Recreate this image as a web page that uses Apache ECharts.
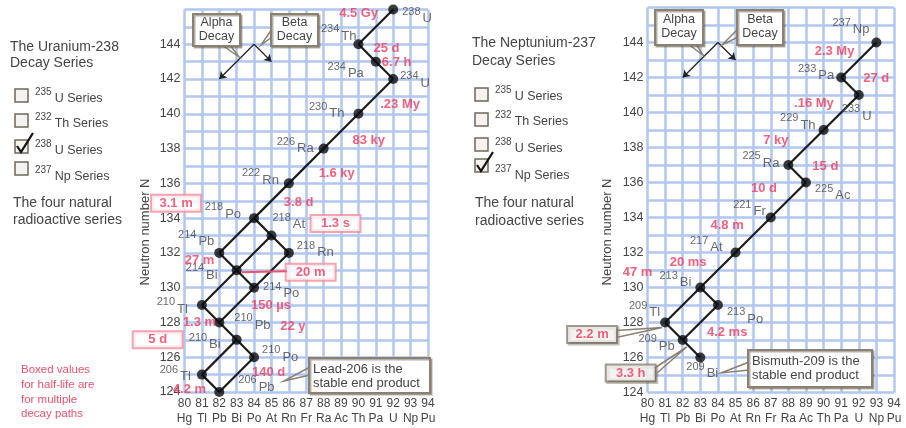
<!DOCTYPE html>
<html>
<head>
<meta charset="utf-8">
<script src="https://cdn.jsdelivr.net/npm/echarts@6/dist/echarts.min.js"></script>
<style>
  html, body { margin: 0; padding: 0; background: #fff; }
  #chart { width: 906px; height: 428px; }
</style>
</head>
<body>
<div id="chart"></div>
<script>
// ---------------- axis data ----------------
const zTicks = [80, 81, 82, 83, 84, 85, 86, 87, 88, 89, 90, 91, 92, 93, 94];
const elementSymbols = ['Hg', 'Tl', 'Pb', 'Bi', 'Po', 'At', 'Rn', 'Fr', 'Ra', 'Ac', 'Th', 'Pa', 'U', 'Np', 'Pu'];
const nTicks = [124, 126, 128, 130, 132, 134, 136, 138, 140, 142, 144];

// ---------------- Uranium-238 series ----------------
const uNames    = ['U-238', 'Th-234', 'Pa-234', 'U-234', 'Th-230', 'Ra-226', 'Rn-222', 'Po-218', 'At-218', 'Pb-214',
                   'Rn-218', 'Bi-214', 'Po-214', 'Tl-210', 'Pb-210', 'Bi-210', 'Po-210', 'Tl-206', 'Pb-206'];
const uMass     = [238, 234, 234, 234, 230, 226, 222, 218, 218, 214, 218, 214, 214, 210, 210, 210, 210, 206, 206];
const uSymbol   = ['U', 'Th', 'Pa', 'U', 'Th', 'Ra', 'Rn', 'Po', 'At', 'Pb', 'Rn', 'Bi', 'Po', 'Tl', 'Pb', 'Bi', 'Po', 'Tl', 'Pb'];
const uZ        = [92, 90, 91, 92, 90, 88, 86, 84, 85, 82, 86, 83, 84, 81, 82, 83, 84, 81, 82];
const uN        = [146, 144, 143, 142, 140, 138, 136, 134, 133, 132, 132, 131, 130, 129, 128, 127, 126, 125, 124];
const uHalfLife = ['4.5 Gy', '25 d', '6.7 h', '.23 My', '83 ky', '1.6 ky', '3.8 d', '3.1 m', '1.3 s', '27 m',
                   '', '20 m', '150 µs', '1.3 m', '22 y', '5 d', '140 d', '4.2 m', ''];
const uDecays = [
  ['U-238', 'Th-234'], ['Th-234', 'Pa-234'], ['Pa-234', 'U-234'], ['U-234', 'Th-230'], ['Th-230', 'Ra-226'],
  ['Ra-226', 'Rn-222'], ['Rn-222', 'Po-218'], ['Po-218', 'Pb-214'], ['Po-218', 'At-218'], ['At-218', 'Bi-214'],
  ['At-218', 'Rn-218'], ['Pb-214', 'Bi-214'], ['Rn-218', 'Po-214'], ['Bi-214', 'Po-214'], ['Bi-214', 'Tl-210'],
  ['Po-214', 'Pb-210'], ['Tl-210', 'Pb-210'], ['Pb-210', 'Bi-210'], ['Bi-210', 'Po-210'], ['Bi-210', 'Tl-206'],
  ['Po-210', 'Pb-206'], ['Tl-206', 'Pb-206']
];

// ---------------- Neptunium-237 series ----------------
const npNames    = ['Np-237', 'Pa-233', 'U-233', 'Th-229', 'Ra-225', 'Ac-225', 'Fr-221', 'At-217', 'Bi-213',
                    'Po-213', 'Tl-209', 'Pb-209', 'Bi-209'];
const npMass     = [237, 233, 233, 229, 225, 225, 221, 217, 213, 213, 209, 209, 209];
const npSymbol   = ['Np', 'Pa', 'U', 'Th', 'Ra', 'Ac', 'Fr', 'At', 'Bi', 'Po', 'Tl', 'Pb', 'Bi'];
const npZ        = [93, 91, 92, 90, 88, 89, 87, 85, 83, 84, 81, 82, 83];
const npN        = [144, 142, 141, 139, 137, 136, 134, 132, 130, 129, 128, 127, 126];
const npHalfLife = ['2.3 My', '27 d', '.16 My', '7 ky', '15 d', '10 d', '4.8 m', '20 ms', '47 m',
                    '4.2 ms', '2.2 m', '3.3 h', ''];
const npDecays = [
  ['Np-237', 'Pa-233'], ['Pa-233', 'U-233'], ['U-233', 'Th-229'], ['Th-229', 'Ra-225'], ['Ra-225', 'Ac-225'],
  ['Ac-225', 'Fr-221'], ['Fr-221', 'At-217'], ['At-217', 'Bi-213'], ['Bi-213', 'Po-213'], ['Bi-213', 'Tl-209'],
  ['Po-213', 'Pb-209'], ['Tl-209', 'Pb-209'], ['Pb-209', 'Bi-209']
];

// decay-mode key: alpha removes 2 protons + 2 neutrons, beta turns a neutron into a proton
const keyOrigin = [84, 144];
const alphaStep = [-2, -2];
const betaStep  = [1, -1];

// check-box list of the four natural series
const seriesMass = ['235', '232', '238', '237'];
const seriesElem = ['U', 'Th', 'U', 'Np'];

// ---------------- layout (label placement around each dot) ----------------
// [side, dx, dy]
const uNameLayout = {
  'U-238': ['l', 9, 6], 'Th-234': ['r', -2, -11], 'Pa-234': ['r', -12, 9], 'U-234': ['l', 7, 1],
  'Th-230': ['r', -14, -3], 'Ra-226': ['r', -10, -3], 'Rn-222': ['r', -10, -6], 'Po-218': ['r', -13, -7],
  'At-218': ['l', 1, -14], 'Pb-214': ['r', -5, -14], 'Rn-218': ['l', 8, -3], 'Bi-214': ['r', -19, 2],
  'Po-214': ['l', 9, 3], 'Tl-210': ['r', -14, 1], 'Pb-210': ['l', 15, 0], 'Bi-210': ['r', -16, 2],
  'Po-210': ['l', 8, -3], 'Tl-206': ['r', -11, -1], 'Pb-206': ['l', 19, -8]
};
// [side, dx, dy, style]
const uHalfLayout = {
  'U-238': ['r', -15, 4, 'plain'], 'Th-234': ['l', 15, 4, 'plain'], 'Pa-234': ['l', 6, 1, 'plain'],
  'U-234': ['l', -13, 25, 'plain'], 'Th-230': ['l', -6, 27, 'plain'], 'Ra-226': ['l', -5, 25, 'plain'],
  'Rn-222': ['l', -5, 19, 'plain'], 'Po-218': ['r', -54, -15, 'pink'], 'At-218': ['l', 40, -12, 'pink'],
  'Pb-214': ['r', -5, 8, 'plain'], 'Bi-214': ['l', 50, 2, 'pink'], 'Po-214': ['l', -3, 18, 'plain'],
  'Tl-210': ['l', -19, 17, 'plain'], 'Pb-210': ['l', 61, 4, 'plain'], 'Bi-210': ['r', -55, 0, 'pink'],
  'Po-210': ['l', -2, 15, 'plain'], 'Tl-206': ['l', -29, 15, 'plain']
};
const npNameLayout = {
  'Np-237': ['r', -7, -16], 'Pa-233': ['r', -7, -5], 'U-233': ['l', -17, 18], 'Th-229': ['r', -8, -8],
  'Ra-225': ['r', -9, -5], 'Ac-225': ['l', 9, 10], 'Fr-221': ['r', -5, -9], 'At-217': ['r', -13, -8],
  'Bi-213': ['r', -9, -8], 'Po-213': ['l', 9, 11], 'Tl-209': ['r', -5, -13], 'Pb-209': ['r', -8, 3],
  'Bi-209': ['l', -14, 13]
};
const npHalfLayout = {
  'Np-237': ['r', -22, 9, 'plain'], 'Pa-233': ['l', 22, 1, 'plain'], 'U-233': ['r', -25, 8, 'plain'],
  'Th-229': ['r', -35, 10, 'plain'], 'Ra-225': ['l', 24, 1, 'plain'], 'Ac-225': ['r', -29, 6, 'plain'],
  'Fr-221': ['r', -27, 8, 'plain'], 'At-217': ['r', -29, 10, 'plain'], 'Bi-213': ['r', -48, -15, 'plain'],
  'Tl-209': ['r', -49, 12, 'gray'], 'Po-213': ['l', -11, 27, 'plain'], 'Pb-209': ['r', -28, 33, 'gray']
};

// ---------------- styling ----------------
const FONT = "'Liberation Sans', Arial, Helvetica, sans-serif";
const INK = '#454545';
const RED = '#f4375b';
const GRID_BLUE = '#b1c6f1';
const BOX_LINE = '#8a8172';
const PINK_LINE = '#f58c9c';

const chart = echarts.init(document.getElementById('chart'), null, { renderer: 'canvas' });

function axisPair(g) {
  return {
    x: {
      type: 'value', gridIndex: g, min: 80, max: 94, interval: 1,
      axisLine: { show: false }, axisTick: { show: false },
      splitLine: { show: true, lineStyle: { color: GRID_BLUE, width: 2.5 } },
      axisLabel: {
        margin: 4,
        formatter: v => '{n|' + v + '}\n{s|' + elementSymbols[zTicks.indexOf(v)] + '}',
        rich: {
          n: { fontSize: 12, color: INK, lineHeight: 15, fontFamily: FONT },
          s: { fontSize: 12, color: INK, lineHeight: 15, fontFamily: FONT }
        }
      }
    },
    y: {
      type: 'value', gridIndex: g, min: 124, max: 146, interval: 1,
      axisLine: { show: false }, axisTick: { show: false },
      splitLine: { show: true, lineStyle: { color: GRID_BLUE, width: 2.5 } },
      axisLabel: {
        margin: 4, fontSize: 12.5, color: INK, fontFamily: FONT,
        formatter: v => (nTicks.indexOf(v) >= 0 ? String(v) : '')
      }
    }
  };
}

const halfRich = {
  plain: { fontSize: 13, fontWeight: 'bold', color: RED, lineHeight: 15, fontFamily: FONT },
  pink: { fontSize: 13, fontWeight: 'bold', color: RED, lineHeight: 14, fontFamily: FONT, width: 36, align: 'center',
          backgroundColor: '#fff', borderColor: PINK_LINE, borderWidth: 2, padding: [1, 6] },
  gray: { fontSize: 13, fontWeight: 'bold', color: RED, lineHeight: 14, fontFamily: FONT, width: 36, align: 'center',
          backgroundColor: '#fff', borderColor: BOX_LINE, borderWidth: 2, padding: [1, 6],
          shadowColor: 'rgba(90,80,60,0.45)', shadowOffsetX: 1.5, shadowOffsetY: 1.5 }
};

function panelSeries(g, names, Z, N, mass, sym, half, decays, nameLayout, halfLayout) {
  const idx = {};
  names.forEach((n, i) => { idx[n] = i; });
  const pt = n => [Z[idx[n]], N[idx[n]]];
  const halfItems = names
    .map((n, i) => ({ n, i }))
    .filter(o => half[o.i] && halfLayout[o.n]);
  const keyEnd = step => [keyOrigin[0] + step[0], keyOrigin[1] + step[1]];
  return [
    {
      type: 'lines', coordinateSystem: 'cartesian2d', xAxisIndex: g, yAxisIndex: g, z: 3, silent: true,
      lineStyle: { color: '#1c1c1c', width: 2.2, opacity: 1 },
      data: decays.map(([a, b]) => ({ coords: [pt(a), pt(b)] }))
    },
    {
      type: 'lines', coordinateSystem: 'cartesian2d', xAxisIndex: g, yAxisIndex: g, z: 3, silent: true,
      symbol: ['none', 'arrow'], symbolSize: 7,
      lineStyle: { color: '#222', width: 1.3, opacity: 1 },
      data: [{ coords: [keyOrigin, keyEnd(alphaStep)] }, { coords: [keyOrigin, keyEnd(betaStep)] }]
    },
    {
      type: 'scatter', xAxisIndex: g, yAxisIndex: g, z: 5, silent: true,
      symbol: 'circle', symbolSize: 10, itemStyle: { color: '#0b0b0b' },
      data: names.map((n, i) => {
        const L = nameLayout[n];
        return { name: n, value: [Z[i], N[i]],
                 label: { align: L[0] === 'l' ? 'left' : 'right', offset: [L[1], L[2]] } };
      }),
      label: {
        show: true, position: 'inside', verticalAlign: 'middle',
        formatter: p => '{m|' + mass[p.dataIndex] + '}{s|' + sym[p.dataIndex] + '}',
        rich: {
          m: { fontSize: 11, lineHeight: 11, padding: [0, 0, 8, 0], color: INK, fontFamily: FONT },
          s: { fontSize: 13, lineHeight: 13, padding: [6, 0, 0, 2], color: INK, fontFamily: FONT }
        }
      }
    },
    {
      type: 'scatter', xAxisIndex: g, yAxisIndex: g, z: 6, silent: true,
      symbol: 'circle', symbolSize: 1, itemStyle: { color: 'rgba(0,0,0,0)' },
      data: halfItems.map(o => {
        const L = halfLayout[o.n];
        return { name: o.n, value: [Z[o.i], N[o.i]],
                 label: { align: L[0] === 'l' ? 'left' : 'right', offset: [L[1], L[2]],
                          formatter: '{' + L[3] + '|' + half[o.i] + '}' } };
      }),
      label: { show: true, position: 'inside', verticalAlign: 'middle', rich: halfRich }
    }
  ];
}

const A0 = axisPair(0), A1 = axisPair(1);

chart.setOption({
  animation: false,
  backgroundColor: '#fff',
  textStyle: { fontFamily: FONT },
  grid: [
    { left: 184.5, top: 9.5, width: 243.5, height: 382.5 },
    { left: 647.5, top: 7.5, width: 246.5, height: 385 }
  ],
  xAxis: [A0.x, A1.x],
  yAxis: [A0.y, A1.y],
  series: [].concat(
    panelSeries(0, uNames, uZ, uN, uMass, uSymbol, uHalfLife, uDecays, uNameLayout, uHalfLayout),
    panelSeries(1, npNames, npZ, npN, npMass, npSymbol, npHalfLife, npDecays, npNameLayout, npHalfLayout)
  )
});

// ---------------- side panels, key boxes and callouts ----------------
function txt(x, y, text, extra) {
  return {
    type: 'text', x: x, y: y, z: 60, silent: true,
    style: Object.assign({
      text: text, fill: INK, font: '13px ' + FONT,
      textAlign: 'left', align: 'left', textVerticalAlign: 'middle', verticalAlign: 'middle'
    }, extra || {})
  };
}
function box(x, y, w, h, tail, stroke) {
  const els = [];
  if (tail) {
    els.push({ type: 'polyline', z: 55, silent: true, shape: { points: tail },
               style: { stroke: stroke || BOX_LINE, lineWidth: 1.5, fill: null } });
  }
  els.push({ type: 'rect', z: 56, silent: true, shape: { x: x, y: y, width: w, height: h },
             style: { fill: '#fff', stroke: stroke || BOX_LINE, lineWidth: 2,
                      shadowColor: 'rgba(90,80,60,0.45)', shadowOffsetX: 1.5, shadowOffsetY: 1.5 } });
  return els;
}
function checkList(x, boxTops, labelYs, checked) {
  const els = [];
  seriesMass.forEach((m, i) => {
    els.push({ type: 'rect', z: 56, silent: true, shape: { x: x, y: boxTops[i], width: 13, height: 13 },
               style: { fill: '#f5f3ef', stroke: '#6f6859', lineWidth: 1.5 } });
    els.push(txt(x + 20, labelYs[i], '{m|' + m + '}{s|' + seriesElem[i] + ' Series}', {
      rich: {
        m: { fontSize: 10, lineHeight: 10, padding: [0, 0, 8, 0], fill: INK, fontFamily: FONT },
        s: { fontSize: 12.5, lineHeight: 13, padding: [5, 0, 0, 3], fill: INK, fontFamily: FONT }
      }
    }));
  });
  const t = boxTops[checked];
  els.push({ type: 'polyline', z: 57, silent: true,
             shape: { points: [[x + 2, t + 6], [x + 6, t + 12], [x + 18, t - 7]] },
             style: { stroke: '#111', lineWidth: 2.2, fill: null } });
  return els;
}

const px = (g, z, n) => chart.convertToPixel({ gridIndex: g }, [z, n]);
const uAt = n => px(0, uZ[uNames.indexOf(n)], uN[uNames.indexOf(n)]);
const npAt = n => px(1, npZ[npNames.indexOf(n)], npN[npNames.indexOf(n)]);

const bi214 = uAt('Bi-214');
const tl209 = npAt('Tl-209');
const pb209 = npAt('Pb-209');

const graphics = [].concat(
  // left side
  [txt(10, 55, 'The Uranium-238\nDecay Series', { font: '14px ' + FONT, lineHeight: 16.5 })],
  checkList(15, [89, 114, 140, 162], [96, 121, 148, 174], 2),
  [txt(13, 212, 'The four natural\nradioactive series', { font: '14px ' + FONT, lineHeight: 17 })],
  [txt(21, 392, 'Boxed values\nfor half-life are\nfor multiple\ndecay paths',
       { font: '11.5px ' + FONT, lineHeight: 14.7, fill: '#f4506a' })],
  [txt(145, 232, 'Neutron number N', { textAlign: 'center', align: 'center' })],
  box(193, 14, 47, 32, [[222, 45], [239, 57], [230, 45]]),
  [txt(216.5, 30, 'Alpha\nDecay', { textAlign: 'center', align: 'center', font: '12.5px ' + FONT, lineHeight: 14 })],
  box(271, 14, 47, 32, [[272, 29], [261, 45], [272, 37]]),
  [txt(294.5, 30, 'Beta\nDecay', { textAlign: 'center', align: 'center', font: '12.5px ' + FONT, lineHeight: 14 })],
  box(309, 358, 121, 35, [[310, 367], [284, 381], [310, 375]]),
  [txt(313, 376, 'Lead-206 is the\nstable end product', { lineHeight: 14 })],
  [{ type: 'line', z: 54, silent: true,
     shape: { x1: bi214[0] + 5, y1: bi214[1] + 2, x2: bi214[0] + 50, y2: bi214[1] + 1 },
     style: { stroke: '#f4506a', lineWidth: 2 } }],

  // right side
  [txt(472, 52.5, 'The Neptunium-237\nDecay Series', { font: '14px ' + FONT, lineHeight: 18 })],
  checkList(475, [88, 113, 138, 159], [94, 119, 146, 173], 3),
  [txt(475, 212, 'The four natural\nradioactive series', { font: '14px ' + FONT, lineHeight: 18 })],
  [txt(607, 232, 'Neutron number N', { textAlign: 'center', align: 'center' })],
  box(655, 10, 48, 35, [[688, 44], [703, 55], [696, 44]]),
  [txt(679, 27, 'Alpha\nDecay', { textAlign: 'center', align: 'center', font: '12.5px ' + FONT, lineHeight: 14 })],
  box(737, 10, 46, 35, [[738, 29], [722, 45], [738, 37]]),
  [txt(760, 27, 'Beta\nDecay', { textAlign: 'center', align: 'center', font: '12.5px ' + FONT, lineHeight: 14 })],
  box(748, 350, 124, 37, [[749, 362], [721, 373], [749, 370]]),
  [txt(752, 368.5, 'Bismuth-209 is the\nstable end product', { lineHeight: 14.5 })],
  [{ type: 'polyline', z: 54, silent: true,
     shape: { points: [[tl209[0] - 49, tl209[1] + 8], [tl209[0] - 3, tl209[1] + 5], [tl209[0] - 49, tl209[1] + 15]] },
     style: { stroke: BOX_LINE, lineWidth: 1.5, fill: null } },
   { type: 'polyline', z: 54, silent: true,
     shape: { points: [[pb209[0] - 28, pb209[1] + 28], [pb209[0] + 4, pb209[1] + 7], [pb209[0] - 28, pb209[1] + 35]] },
     style: { stroke: BOX_LINE, lineWidth: 1.5, fill: null } }]
);

// axis titles read bottom-to-top
graphics.forEach(el => {
  if (el.type === 'text' && el.style.text === 'Neutron number N') el.rotation = Math.PI / 2;
});

chart.setOption({ graphic: { elements: graphics } });
</script>
</body>
</html>
